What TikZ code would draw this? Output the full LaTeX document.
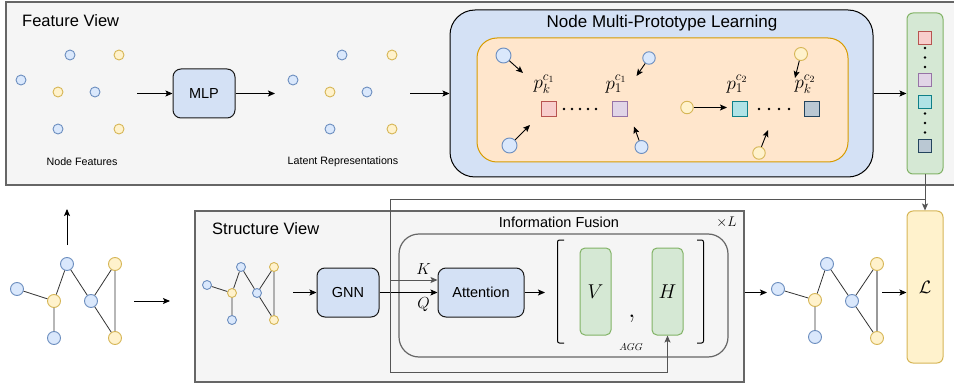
\RequirePackage{fix-cm}
\documentclass[tikz,border=0pt]{standalone}
\usepackage[no-math]{fontspec}
\setmainfont{Liberation Sans}
\usetikzlibrary{arrows.meta}
\definecolor{bfill}{HTML}{DAE8FC}
\definecolor{bstroke}{HTML}{6C8EBF}
\definecolor{yfill}{HTML}{FFF2CC}
\definecolor{ystroke}{HTML}{D6B656}
\definecolor{boxblue}{HTML}{D4E1F5}
\definecolor{gfill}{HTML}{D5E8D4}
\definecolor{gstroke}{HTML}{82B366}
\definecolor{ofill}{HTML}{FFE6CC}
\definecolor{ostroke}{HTML}{D79B00}
\definecolor{redf}{HTML}{F8CECC}
\definecolor{reds}{HTML}{B85450}
\definecolor{purf}{HTML}{E1D5E7}
\definecolor{purs}{HTML}{9673A6}
\definecolor{teaf}{HTML}{B0E3E6}
\definecolor{teas}{HTML}{0E8088}
\definecolor{grf}{HTML}{BAC8D3}
\definecolor{grs}{HTML}{23445D}
\definecolor{panelf}{HTML}{F5F5F5}
\definecolor{panels}{HTML}{666666}
\definecolor{edgec}{HTML}{333333}
\definecolor{linkc}{HTML}{555555}
\tikzset{
  arr/.style={-{Stealth[length=7pt,width=6pt,inset=1.5pt]}, line width=0.9pt, draw=black},
  garr/.style={-{Stealth[length=7pt,width=6pt,inset=1.5pt]}, line width=1pt, draw=linkc},
  bdot/.style={circle, draw=bstroke, fill=bfill, line width=0.9pt, inner sep=0pt, minimum size=#1},
  bdot/.default=10pt,
  ydot/.style={circle, draw=ystroke, fill=yfill, line width=0.9pt, inner sep=0pt, minimum size=#1},
  ydot/.default=10pt,
  gedge/.style={draw=edgec, line width=0.8pt},
  bluebox/.style={draw=black!90, fill=boxblue, rounded corners=8pt, line width=1pt, inner sep=0pt,
    font=\fontsize{14.5}{17}\selectfont},
  panel/.style={draw=panels, fill=panelf, line width=1.3pt, inner sep=0pt},
  proto/.style={inner sep=0pt, minimum size=#1, line width=1pt},
  proto/.default=15pt,
  title/.style={font=\fontsize{16.5}{20}\selectfont},
  small/.style={font=\fontsize{10.7}{13}\selectfont},
  plab/.style={font=\fontsize{19}{22}\selectfont, inner sep=0pt},
  vh/.style={draw=gstroke, fill=gfill, rounded corners=5pt, line width=1pt, minimum width=31pt, minimum height=87pt, inner sep=0pt, font=\fontsize{20}{24}\selectfont},
}
\begin{document}
\begin{tikzpicture}[x=1pt,y=-1pt]
\useasboundingbox (0,0) rectangle (954,385);

% ---------------- Feature view panel ----------------
\node[panel, minimum width=956pt, minimum height=183pt] (fv) at (484,93.5) {};
\node[title, anchor=base west, inner sep=0pt] (fvt) at (22,27) {Feature View};

% node features
\node[bdot] (f1) at (21,80) {};
\node[bdot] (f2) at (70,55) {};
\node[ydot] (f3) at (119,55) {};
\node[ydot] (f4) at (58,92) {};
\node[bdot] (f5) at (95,92) {};
\node[bdot] (f6) at (58,129) {};
\node[ydot] (f7) at (119,129) {};
\node[small, anchor=base, inner sep=0pt] (nft) at (82,166) {Node Features};

\node[bluebox, minimum width=62pt, minimum height=49pt] (mlp) at (204,93.5) {MLP};
\coordinate (nfo) at (137,93.5);
\coordinate (lri) at (275,93.5);
\draw[arr] (nfo) -- (mlp.west);
\draw[arr] (mlp.east) -- (lri);

% latent representations
\node[bdot] (l1) at (293,80) {};
\node[bdot] (l2) at (342,55) {};
\node[ydot] (l3) at (392,55) {};
\node[ydot] (l4) at (330,92) {};
\node[bdot] (l5) at (367,92) {};
\node[bdot] (l6) at (330,129) {};
\node[ydot] (l7) at (392,129) {};
\node[small, anchor=base, inner sep=0pt] (lrt) at (343,165) {Latent Representations};

% Node multi-prototype learning
\node[draw=black, fill=boxblue, rounded corners=25pt, line width=1pt, inner sep=0pt,
  minimum width=423pt, minimum height=167pt] (nmpl) at (661.5,93.5) {};
\node[anchor=base, inner sep=0pt, font=\fontsize{17}{20}\selectfont] (nmplt) at (662,28) {Node Multi-Prototype Learning};
\coordinate (lro) at (410,93.5);
\draw[arr] (lro) -- (nmpl.west);

\node[draw=ostroke, fill=ofill, rounded corners=20pt, line width=1pt, inner sep=0pt,
  minimum width=371pt, minimum height=124pt] (ob) at (662.5,100) {};

\node[proto, draw=reds, fill=redf] (pr1) at (548.5,109) {};
\node[proto, draw=purs, fill=purf] (pp1) at (619.5,109) {};
\node[proto, draw=teas, fill=teaf] (pt1) at (739.5,109) {};
\node[proto, draw=grs, fill=grf] (pg1) at (811.5,109) {};
\node[plab] (lab1) at (544,84) {$p_k^{c_1}$};
\node[plab] (lab2) at (616,84) {$p_1^{c_1}$};
\node[plab] (lab3) at (737,84) {$p_1^{c_2}$};
\node[plab] (lab4) at (805,84) {$p_k^{c_2}$};
\foreach \x in {564,572,580,588,596} \fill (\x,109) circle (1.3pt);
\foreach \x in {759,769,779,789} \fill (\x,109) circle (1.3pt);

\node[bdot=15pt] (c1) at (503.5,55.5) {};
\node[bdot=15pt] (c2) at (509.5,145.5) {};
\node[bdot=12.5pt] (c3) at (649,58) {};
\node[bdot=13pt] (c4) at (641.5,147) {};
\node[ydot=12.5pt] (c5) at (687,107.5) {};
\node[ydot=13pt] (c6) at (801,54) {};
\node[ydot=12.5pt] (c7) at (759,153) {};
\coordinate (t1) at (523,73);
\coordinate (t2) at (530,125);
\coordinate (t3) at (636.5,76);
\coordinate (t4) at (634,126.5);
\coordinate (t5) at (727,107.5);
\coordinate (t6) at (795,78);
\coordinate (t7) at (768,130);
\draw[arr] (c1) -- (t1);
\draw[arr] (c2) -- (t2);
\draw[arr] (c3) -- (t3);
\draw[arr] (c4) -- (t4);
\draw[arr] (c5) -- (t5);
\draw[arr] (c6) -- (t6);
\draw[arr] (c7) -- (t7);

% green prototype column
\node[draw=gstroke, fill=gfill, rounded corners=6pt, line width=1pt, inner sep=0pt,
  minimum width=36pt, minimum height=161pt] (gcol) at (925,93.5) {};
\draw[arr] (nmpl.east) -- (gcol.west);
\node[proto=13pt, draw=reds, fill=redf] (q1) at (925,38) {};
\node[proto=13pt, draw=purs, fill=purf] (q2) at (925,80) {};
\node[proto=13pt, draw=teas, fill=teaf] (q3) at (925,102.5) {};
\node[proto=13pt, draw=grs, fill=grf] (q4) at (925,146) {};
\foreach \y in {48,57.5,67,113.5,123,132.5} \fill (925,\y) circle (1.3pt);

% ---------------- Structure view panel ----------------
\node[panel, minimum width=549pt, minimum height=171pt] (sv) at (469.5,296.5) {};
\node[title, anchor=base west, inner sep=0pt] (svt) at (212,235) {Structure View};

\node[draw=panels, fill=panelf, rounded corners=20pt, line width=1.2pt, inner sep=0pt,
  minimum width=329pt, minimum height=123pt] (ifb) at (563.5,295.5) {};
\node[anchor=base, inner sep=0pt, font=\fontsize{14.5}{17}\selectfont] (ift) at (559,228) {Information Fusion};
\node[inner sep=0pt, font=\fontsize{14}{16}\selectfont] (xl) at (726.5,222.5) {$\times L$};

\node[bluebox, minimum width=62pt, minimum height=49pt] (gnn) at (348,292.5) {GNN};
\node[bluebox, minimum width=86pt, minimum height=49pt] (att) at (481,292.5) {Attention};
\draw[arr] (gnn.east) -- (att.west);
\node[inner sep=0pt, font=\fontsize{16}{19}\selectfont] (kl) at (423.5,269) {$K$};
\node[inner sep=0pt, font=\fontsize{16}{19}\selectfont] (ql) at (423.5,305) {$Q$};

\coordinate (brk) at (545,292.5);
\draw[arr] (att.east) -- (brk);
\draw[line width=1pt, rounded corners=2pt] (564,240) -- (557.5,240) -- (557.5,343) -- (564,343);
\draw[line width=1pt, rounded corners=2pt] (697,240) -- (703.5,240) -- (703.5,343) -- (697,343);
\node[vh] (vbox) at (595.5,291.5) {$V$};
\node[vh] (hbox) at (667.5,291.5) {$H$};
\node[anchor=base, inner sep=0pt, font=\fontsize{26}{28}\selectfont] (comma) at (632,317) {$\mathbf{,}$};
\node[inner sep=0pt, font=\fontsize{10}{12}\selectfont] (agg) at (631,347.5) {$AGG$};

% small graph inside structure view
\node[bdot=9pt] (s1) at (207,285) {};
\node[ydot=9pt] (s2) at (232,293) {};
\node[bdot=9pt] (s3) at (232,320) {};
\node[bdot=9pt] (s4) at (241,267) {};
\node[bdot=9pt] (s5) at (257,293) {};
\node[ydot=9pt] (s6) at (274,267) {};
\node[ydot=9pt] (s7) at (274,320) {};
\draw[gedge] (s1) -- (s2) (s2) -- (s3) (s2) -- (s4) (s4) -- (s5) (s5) -- (s6) (s5) -- (s7) (s6) -- (s7);
\coordinate (sgo) at (293,292.5);
\draw[arr] (sgo) -- (gnn.west);

% L box and links
\node[draw=ystroke, fill=yfill, rounded corners=6pt, line width=1pt, inner sep=0pt,
  minimum width=36pt, minimum height=152pt, font=\fontsize{18}{21}\selectfont] (lbox) at (925,287) {$\mathcal{L}$};
\coordinate (j1) at (925,200);
\coordinate (j2) at (390,200);
\coordinate (j3) at (390,372);
\coordinate (j4) at (390,280);
\draw[garr] (gcol.south) -- (lbox.north);
\draw[garr] (j1) -- (j2) -- (j3) -| (hbox.south);
\draw[garr] (j4) -- (att.west |- j4);

% left graph
\node[bdot=13pt] (a1) at (17,289) {};
\node[ydot=13pt] (a2) at (54,301) {};
\node[bdot=13pt] (a3) at (54,338) {};
\node[bdot=13pt] (a4) at (67,264) {};
\node[bdot=13pt] (a5) at (91,301) {};
\node[ydot=13pt] (a6) at (115,264) {};
\node[ydot=13pt] (a7) at (115,338) {};
\draw[gedge] (a1) -- (a2) (a2) -- (a3) (a2) -- (a4) (a4) -- (a5) (a5) -- (a6) (a5) -- (a7) (a6) -- (a7);
\coordinate (upa) at (67,245);
\coordinate (upb) at (67,209);
\draw[arr] (upa) -- (upb);
\coordinate (ra) at (134,301);
\coordinate (rb) at (170,301);
\draw[arr] (ra) -- (rb);

% right graph
\node[bdot=13pt] (r1) at (778,289) {};
\node[ydot=13pt] (r2) at (815,300) {};
\node[bdot=13pt] (r3) at (815,337) {};
\node[bdot=13pt] (r4) at (827,264) {};
\node[bdot=13pt] (r5) at (852,301) {};
\node[ydot=13pt] (r6) at (877,264) {};
\node[ydot=13pt] (r7) at (877,338) {};
\draw[gedge] (r1) -- (r2) (r2) -- (r3) (r2) -- (r4) (r4) -- (r5) (r5) -- (r6) (r5) -- (r7);
\draw[draw=black!40, line width=1.3pt] (r6) -- (r7);
\coordinate (rgi) at (767,292.5);
\draw[arr] (sv.east |- att.east) -- (rgi);
\coordinate (rgo) at (882,292.5);
\draw[arr] (rgo) -- (lbox.west |- rgo);
\end{tikzpicture}
\end{document}
